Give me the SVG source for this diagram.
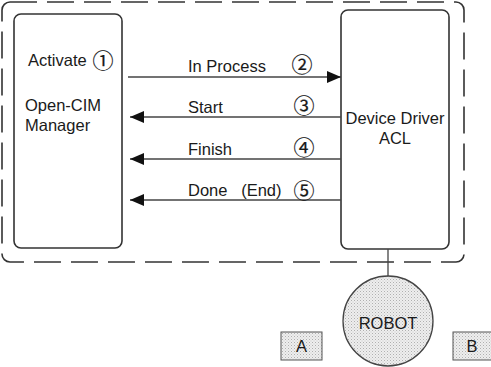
<svg xmlns="http://www.w3.org/2000/svg" width="491" height="367" viewBox="0 0 491 367">
<defs>
<pattern id="stip" width="3" height="3" patternUnits="userSpaceOnUse">
<rect width="3" height="3" fill="#eeeeee"/>
<rect x="0" y="0" width="1" height="1" fill="#b0b0b0"/>
<rect x="1.5" y="1.5" width="1" height="1" fill="#c8c8c8"/>
</pattern>
<marker id="ah" viewBox="0 0 14 12" refX="14" refY="6" markerWidth="14" markerHeight="12" markerUnits="userSpaceOnUse" orient="auto">
<path d="M0,0 L14,6 L0,12 Z" fill="#111"/>
</marker>
<style>
text{font-family:"Liberation Sans",Arial,sans-serif;font-size:16.5px;fill:#1a1a1a}
.num{font-family:"Noto Sans CJK JP","DejaVu Sans",sans-serif;font-size:21px;fill:#1a1a1a;stroke:#1a1a1a;stroke-width:0.2}
.box{fill:#fff;stroke:#333;stroke-width:1.6}
.ln{stroke:#444;stroke-width:1.3;fill:none}
</style>
</defs>
<rect x="2" y="2" width="462" height="260" rx="8" fill="none" stroke="#333" stroke-width="1.6" stroke-dasharray="27,10"/>
<g id="manager">
<rect class="box" x="14" y="14" width="108" height="234" rx="7"/>
<text x="28" y="66">Activate</text>
<text class="num" x="103" y="68" text-anchor="middle">①</text>
<text x="25" y="111">Open-CIM</text>
<text x="25" y="131">Manager</text>
</g>
<g id="driver">
<rect class="box" x="341" y="10" width="108" height="239" rx="7"/>
<text x="395" y="124" text-anchor="middle">Device Driver</text>
<text x="395" y="144" text-anchor="middle">ACL</text>
</g>
<g id="robot">
<circle cx="388" cy="321" r="45" fill="url(#stip)" stroke="#444" stroke-width="1.3"/>
<text x="388" y="329" text-anchor="middle">ROBOT</text>
</g>
<g id="a">
<rect x="281" y="332" width="41" height="28" fill="url(#stip)" stroke="#555" stroke-width="1"/>
<text x="301.5" y="352" text-anchor="middle">A</text>
</g>
<g id="b">
<rect x="453" y="332" width="45" height="28" fill="url(#stip)" stroke="#555" stroke-width="1"/>
<text x="472" y="352" text-anchor="middle">B</text>
</g>
<g id="connectors">
<line class="ln" x1="128" y1="77" x2="341" y2="77" marker-end="url(#ah)"/>
<line class="ln" x1="341" y1="117" x2="130" y2="117" marker-end="url(#ah)"/>
<line class="ln" x1="341" y1="159" x2="130" y2="159" marker-end="url(#ah)"/>
<line class="ln" x1="341" y1="200" x2="130" y2="200" marker-end="url(#ah)"/>
<line class="ln" x1="388" y1="249" x2="388" y2="276"/>
<text x="188" y="72">In Process</text>
<text class="num" x="302" y="72" text-anchor="middle">②</text>
<text x="188" y="113">Start</text>
<text class="num" x="304" y="113" text-anchor="middle">③</text>
<text x="188" y="155">Finish</text>
<text class="num" x="304" y="155" text-anchor="middle">④</text>
<text x="188" y="196" xml:space="preserve">Done   (End)</text>
<text class="num" x="304" y="198" text-anchor="middle">⑤</text>
</g>
</svg>
